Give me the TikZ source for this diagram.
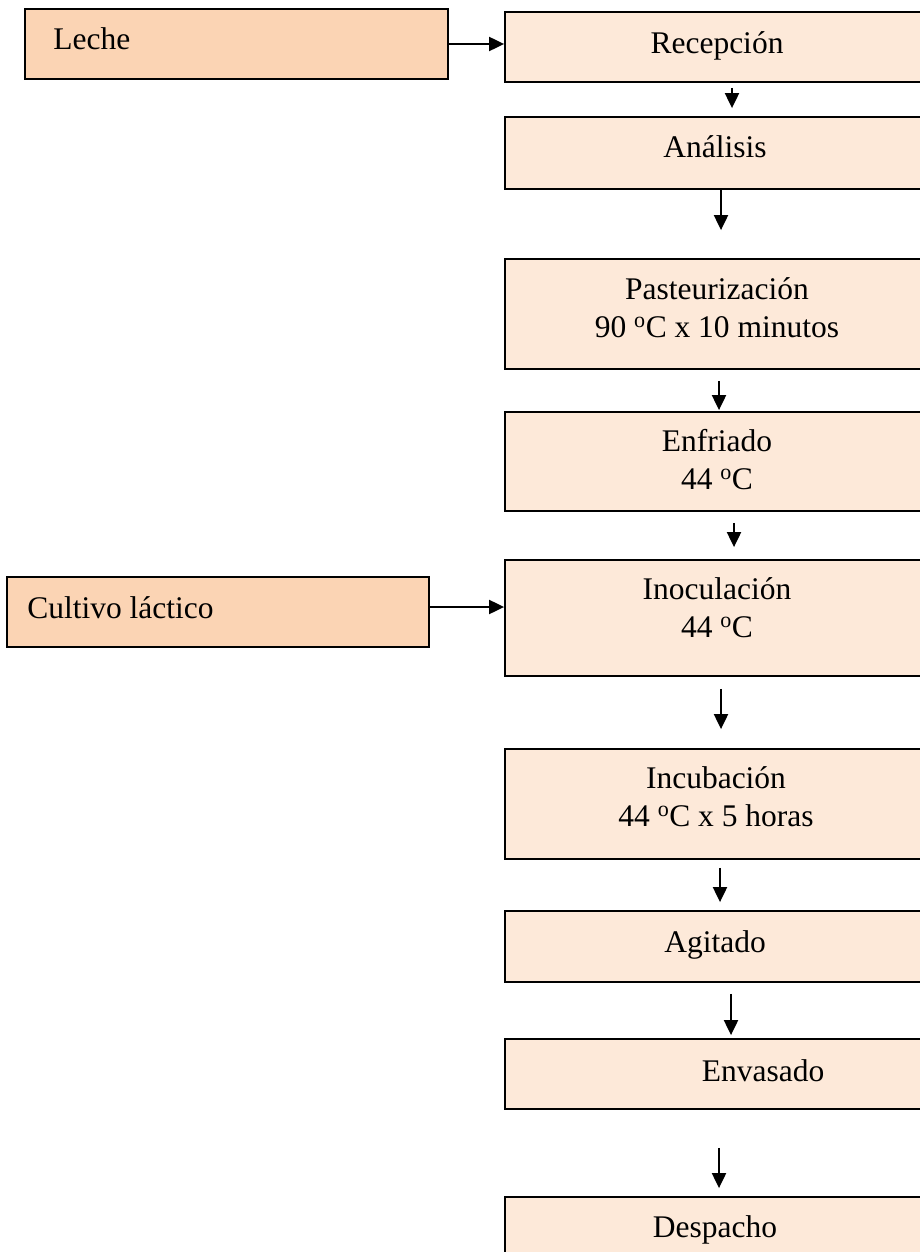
\documentclass[tikz,border=0pt]{standalone}
\usepackage{fontspec}
\setmainfont{Liberation Serif}
\usetikzlibrary{arrows.meta,calc}

\definecolor{inputfill}{HTML}{FBD4B4}
\definecolor{stepfill}{HTML}{FDE9D9}

\newcommand{\gradC}{\textsuperscript{o}C}

\tikzset{
  inbox/.style={draw=black, line width=1.8pt, fill=inputfill,
    minimum width=423pt, minimum height=70pt, inner sep=0pt},
  stepbox/.style={draw=black, line width=1.8pt, fill=stepfill,
    minimum width=422pt, inner sep=0pt},
  txt/.style={font=\fontsize{31.5}{37.5}\selectfont, align=center,
    inner sep=0pt, anchor=base},
  arr/.style={line width=2pt, -{Triangle[length=15pt,width=14pt]}},
}

\begin{document}
\begin{tikzpicture}[x=1pt, y=-1pt]
  \useasboundingbox (0,0) rectangle (920,1252);
  \fill[white] (0,0) rectangle (920,1252);
  \clip (0,0) rectangle (920,1252);

  % inputs
  \node[inbox] (leche) at (236.5,44) {};
  \node[inbox, minimum width=422pt] (cul) at (218,612) {};

  % process steps
  \node[stepbox, minimum height=70pt]  (rec) at (716,47)     {};
  \node[stepbox, minimum height=72pt]  (ana) at (716,153)    {};
  \node[stepbox, minimum height=110pt] (pas) at (716,314)    {};
  \node[stepbox, minimum height=99pt]  (enf) at (716,461.5)  {};
  \node[stepbox, minimum height=116pt] (ino) at (716,618)    {};
  \node[stepbox, minimum height=110pt] (inc) at (716,804)    {};
  \node[stepbox, minimum height=71pt]  (agi) at (716,946.5)  {};
  \node[stepbox, minimum height=70pt]  (env) at (716,1074)   {};
  \node[stepbox, minimum height=70pt]  (des) at (716,1232)   {};

  % labels (two-line labels are placed by the baseline of their last line)
  \node[txt, anchor=base west] (leche-t) at ($(leche.west)+(29,6)$) {Leche};
  \node[txt, anchor=base west] (cul-t) at ($(cul.west)+(21,6)$) {Cultivo láctico};
  \node[txt] (rec-t) at ($(rec.center)+(1,7)$)     {Recepción};
  \node[txt] (ana-t) at ($(ana.center)+(-1,5)$)    {Análisis};
  \node[txt] (pas-t) at ($(pas.center)+(1,23)$)    {Pasteurización\\90 \gradC{} x 10 minutos};
  \node[txt] (enf-t) at ($(enf.center)+(1,27.5)$)  {Enfriado\\44 \gradC};
  \node[txt] (ino-t) at ($(ino.center)+(1,19)$)    {Inoculación\\44 \gradC};
  \node[txt] (inc-t) at ($(inc.center)+(0,22)$)    {Incubación\\44 \gradC{} x 5 horas};
  \node[txt] (agi-t) at ($(agi.center)+(-1,5.5)$)  {Agitado};
  \node[txt] (env-t) at ($(env.center)+(47,7)$)    {Envasado};
  \node[txt] (des-t) at ($(des.center)+(-1,5)$)    {Despacho};

  % input arrows
  \draw[arr] (leche.east) -- (leche.east -| rec.west);
  \draw[arr] ($(cul.east)+(0,-5)$) -- ($(cul.east -| ino.west)+(0,-5)$);

  % flow arrows
  \draw[arr] ($(rec.south)+(16,5)$)  -- ($(ana.north)+(16,-8)$);
  \draw[arr] ($(ana.south)+(5,0)$)   -- ($(pas.north)+(5,-28)$);
  \draw[arr] ($(pas.south)+(3,11)$)  -- ($(enf.north)+(3,-1)$);
  \draw[arr] ($(enf.south)+(18,11)$) -- ($(ino.north)+(18,-12)$);
  \draw[arr] ($(ino.south)+(5,12)$)  -- ($(inc.north)+(5,-19)$);
  \draw[arr] ($(inc.south)+(4,8)$)   -- ($(agi.north)+(4,-8)$);
  \draw[arr] ($(agi.south)+(15,11)$) -- ($(env.north)+(15,-3)$);
  \draw[arr] ($(env.south)+(3,38)$)  -- ($(des.north)+(3,-8)$);
\end{tikzpicture}
\end{document}
